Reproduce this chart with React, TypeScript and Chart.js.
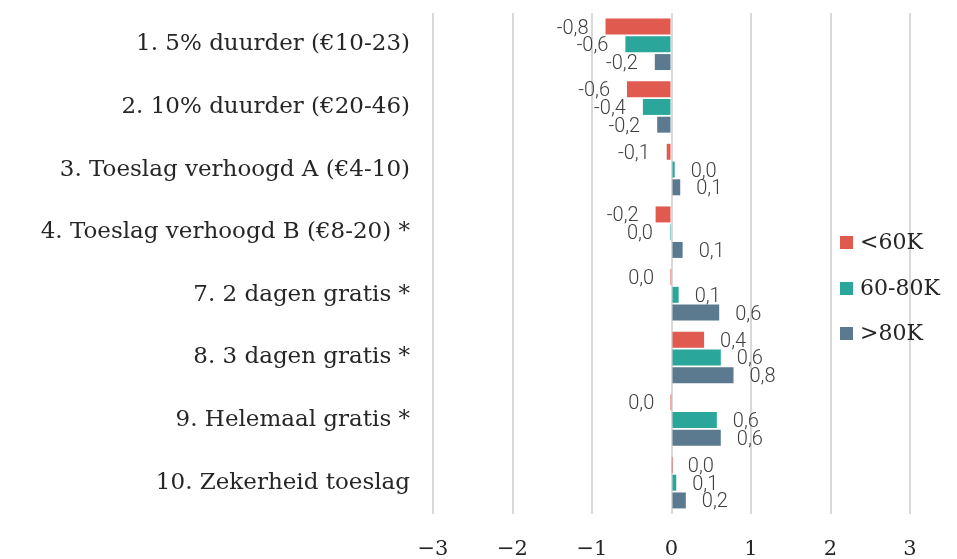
import React, { useEffect, useRef } from "react";
import { Chart, registerables } from "chart.js";

Chart.register(...registerables);

const categories = [
  "1. 5% duurder (€10-23)",
  "2. 10% duurder (€20-46)",
  "3. Toeslag verhoogd A (€4-10)",
  "4. Toeslag verhoogd B (€8-20) *",
  "7. 2 dagen gratis *",
  "8. 3 dagen gratis *",
  "9. Helemaal gratis *",
  "10. Zekerheid toeslag",
];
const seriesNames = ["<60K", "60-80K", ">80K"];
const under60 = [-0.83, -0.56, -0.06, -0.2, -0.004, 0.41, -0.003, 0.004];
const mid60to80 = [-0.58, -0.36, 0.04, -0.02, 0.09, 0.62, 0.57, 0.06];
const over80 = [-0.21, -0.18, 0.11, 0.14, 0.6, 0.78, 0.62, 0.18];
const colors = ["#E05A4F", "#2AA69A", "#5B7A8F"];
const xTicks = [-3, -2, -1, 0, 1, 2, 3];

const SERIF = "'DejaVu Serif', serif";

function fmt(v: number): string {
  let r = Math.round(v * 10) / 10;
  if (r === 0) r = 0;
  return r.toFixed(1).replace(".", ",");
}

const labelPlugin = {
  id: "barLabels",
  afterDatasetsDraw(chart: any) {
    const ctx = chart.ctx;
    ctx.save();
    ctx.font = "300 20px Roboto";
    ctx.fillStyle = "#404040";
    ctx.textBaseline = "middle";
    chart.data.datasets.forEach((ds: any, di: number) => {
      const meta = chart.getDatasetMeta(di);
      meta.data.forEach((el: any, i: number) => {
        const v = ds.data[i];
        const base = chart.scales.x.getPixelForValue(0);
        if (v > 0) {
          ctx.textAlign = "left";
          ctx.fillText(fmt(v), Math.max(el.x, base) + 16, el.y + 2);
        } else {
          ctx.textAlign = "right";
          ctx.fillText(fmt(v), Math.min(el.x, base) - 17, el.y + 2);
        }
      });
    });
    ctx.restore();
  },
};

const legendPlugin = {
  id: "customLegend",
  afterDraw(chart: any) {
    const ctx = chart.ctx;
    ctx.save();
    ctx.font = "22px " + SERIF;
    ctx.textBaseline = "middle";
    ctx.textAlign = "left";
    const x0 = 840;
    const ys = [243, 289, 334];
    chart.data.datasets.forEach((ds: any, i: number) => {
      ctx.fillStyle = ds.backgroundColor;
      ctx.fillRect(x0, ys[i] - 7, 13, 13);
      ctx.fillStyle = "#262626";
      ctx.fillText(ds.label, x0 + 20, ys[i]);
    });
    ctx.restore();
  },
};

export default function App() {
  const ref = useRef<HTMLCanvasElement | null>(null);
  useEffect(() => {
    document.body.style.margin = "0";
    if (!ref.current) return;
    const chart = new Chart(ref.current, {
      type: "bar",
      data: {
        labels: categories,
        datasets: [under60, mid60to80, over80].map((d, i) => ({
          label: seriesNames[i],
          data: d,
          backgroundColor: colors[i],
          barPercentage: 0.9,
          categoryPercentage: 0.85,
        })),
      },
      options: {
        indexAxis: "y",
        responsive: false,
        maintainAspectRatio: false,
        animation: false,
        layout: { padding: { top: 13, right: 47, left: 0, bottom: 0 } },
        plugins: {
          legend: { display: false },
          tooltip: { enabled: false },
        },
        scales: {
          x: {
            min: -3,
            max: 3,
            afterBuildTicks(scale: any) {
              scale.ticks = xTicks.map((v) => ({ value: v }));
            },
            afterFit(scale: any) {
              scale.height = 45;
              scale.paddingLeft = 0;
              scale.paddingRight = 0;
            },
            grid: {
              color: "#d9d9d9",
              lineWidth: 2,
              drawTicks: false,
            },
            border: { display: false },
            ticks: {
              padding: 23,
              color: "#262626",
              font: { family: SERIF, size: 21 },
              callback: (v: any) => String(v).replace("-", "−"),
            },
          },
          y: {
            afterFit(scale: any) {
              scale.width = 433;
              scale.paddingTop = 0;
              scale.paddingBottom = 0;
            },
            grid: { display: false, drawTicks: false },
            border: { display: false },
            ticks: {
              padding: 23,
              color: "#262626",
              font: { family: SERIF, size: 23 },
            },
          },
        },
      },
      plugins: [labelPlugin, legendPlugin],
    } as any);
    return () => chart.destroy();
  }, []);
  return (
    <div style={{ width: 957, height: 559 }}>
      <canvas ref={ref} width={957} height={559} style={{ display: "block" }} />
    </div>
  );
}
